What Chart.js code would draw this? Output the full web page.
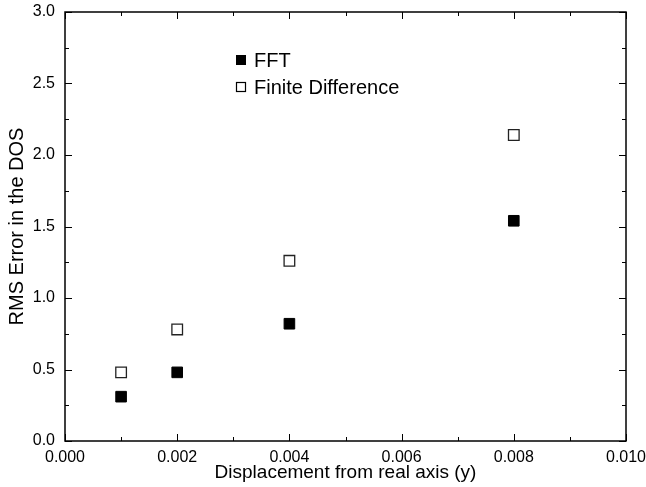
<!DOCTYPE html>
<html>
<head>
<meta charset="utf-8">
<script src="https://cdn.jsdelivr.net/npm/chart.js@4"></script>
<style>
  html, body { margin: 0; padding: 0; background: #fff; }
  #wrap { width: 646px; height: 487px; }
</style>
</head>
<body>
<div id="wrap"><canvas id="chart" width="646" height="487"></canvas></div>
<script>
// data
var displacement = [0.001, 0.002, 0.004, 0.008];
var fftError = [0.31, 0.48, 0.82, 1.54];
var finiteDiffError = [0.48, 0.78, 1.26, 2.14];
var seriesNames = ['FFT', 'Finite Difference'];

var FONT = 'Liberation Sans, Arial, Helvetica, sans-serif';

function toPoints(xs, ys) {
    var pts = [];
    for (var i = 0; i < xs.length; i++) pts.push({x: xs[i], y: ys[i]});
    return pts;
}

// inward ticks on all four sides, the box and the legend
var frameTicks = {
    id: 'frameTicks',
    afterDraw: function(chart) {
        var ctx = chart.ctx, a = chart.chartArea;
        var xs = chart.scales.x, ys = chart.scales.y;
        ctx.save();
        ctx.strokeStyle = '#000';
        ctx.lineWidth = 1;
        var v, p, len;
        for (v = 0; v <= 10; v++) {
            p = Math.round(xs.getPixelForValue(v * 0.001)) + 0.5;
            len = (v % 2 === 0) ? 7 : 4;
            ctx.beginPath();
            ctx.moveTo(p, a.bottom); ctx.lineTo(p, a.bottom - len);
            ctx.moveTo(p, a.top); ctx.lineTo(p, a.top + len);
            ctx.stroke();
        }
        for (v = 0; v <= 12; v++) {
            p = Math.round(ys.getPixelForValue(v * 0.25)) + 0.5;
            len = (v % 2 === 0) ? 7 : 4;
            ctx.beginPath();
            ctx.moveTo(a.left, p); ctx.lineTo(a.left + len, p);
            ctx.moveTo(a.right, p); ctx.lineTo(a.right - len, p);
            ctx.stroke();
        }
        ctx.lineWidth = 1.5;
        ctx.strokeRect(a.left, a.top, a.right - a.left, a.bottom - a.top);

        ctx.font = '20px ' + FONT;
        ctx.textBaseline = 'middle';
        var lx = 236, ly = [60, 87];
        chart.data.datasets.forEach(function(ds, i) {
            if (ds.backgroundColor === '#000') {
                ctx.fillStyle = '#000';
                ctx.fillRect(lx, ly[i] - 5, 10, 10);
            } else {
                ctx.lineWidth = 1.2;
                ctx.strokeStyle = '#000';
                ctx.strokeRect(lx + 0.5, ly[i] - 4.5, 9, 9);
            }
            ctx.fillStyle = '#000';
            ctx.fillText(ds.label, lx + 18, ly[i] + 1);
        });
        ctx.restore();
    }
};

new Chart(document.getElementById('chart'), {
    type: 'scatter',
    data: {
        datasets: [{
            label: seriesNames[0],
            data: toPoints(displacement, fftError),
            pointStyle: 'rect',
            pointRadius: 7.5,
            backgroundColor: '#000',
            borderColor: '#000',
            borderWidth: 1
        }, {
            label: seriesNames[1],
            data: toPoints(displacement, finiteDiffError),
            pointStyle: 'rect',
            pointRadius: 7.5,
            backgroundColor: '#fff',
            borderColor: '#222',
            borderWidth: 1.3
        }]
    },
    options: {
        responsive: false,
        animation: false,
        layout: { padding: { top: 12, right: 20, left: 0, bottom: 0 } },
        plugins: {
            legend: { display: false },
            tooltip: { enabled: false }
        },
        scales: {
            x: {
                type: 'linear',
                min: 0,
                max: 0.01,
                grid: { display: false, drawTicks: false },
                border: { display: false },
                ticks: {
                    stepSize: 0.002,
                    color: '#000',
                    padding: 7,
                    font: { family: FONT, size: 16 },
                    callback: function(v) { return v.toFixed(3); }
                },
                title: {
                    display: true,
                    text: 'Displacement from real axis (y)',
                    color: '#000',
                    font: { family: FONT, size: 19 },
                    padding: { top: 0, bottom: 3 }
                },
                afterFit: function(s) {
                    s.height = 46;
                    s.paddingLeft = 0;
                    s.paddingRight = 0;
                }
            },
            y: {
                min: 0,
                max: 3,
                grid: { display: false, drawTicks: false },
                border: { display: false },
                ticks: {
                    stepSize: 0.5,
                    color: '#000',
                    padding: 10,
                    font: { family: FONT, size: 16 },
                    callback: function(v) { return v.toFixed(1); }
                },
                title: {
                    display: true,
                    text: 'RMS Error in the DOS',
                    color: '#000',
                    font: { family: FONT, size: 20 },
                    padding: { top: 5, bottom: 4 }
                },
                afterFit: function(s) {
                    s.width = 65;
                    s.paddingTop = 0;
                    s.paddingBottom = 0;
                }
            }
        }
    },
    plugins: [frameTicks]
});
</script>
</body>
</html>
